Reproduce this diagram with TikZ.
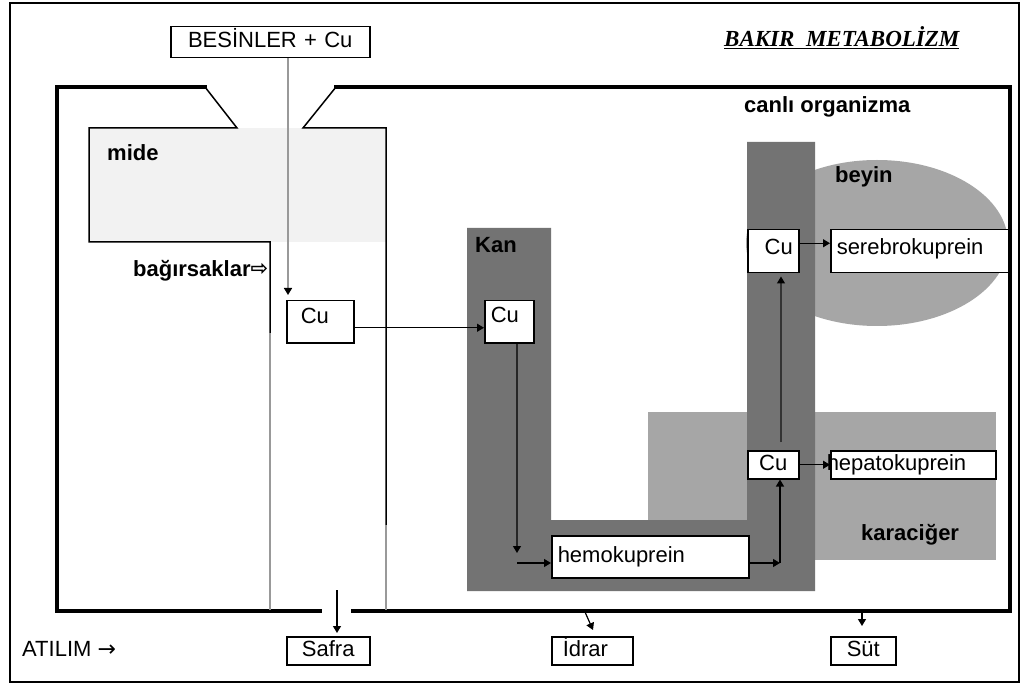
\documentclass[tikz,border=0pt]{standalone}
\usepackage{fontspec}
\setmainfont{Liberation Sans}
\newfontfamily\titlefont{Liberation Serif}
\newfontfamily\symfont{DejaVu Sans}
\usetikzlibrary{arrows.meta,calc}
\definecolor{kancol}{HTML}{737373}
\definecolor{organcol}{HTML}{A6A6A6}
\definecolor{midecol}{HTML}{F2F2F2}
\definecolor{thingray}{HTML}{999999}
\begin{document}
\begin{tikzpicture}[x=1pt,y=-1pt,
  every node/.style={font=\fontsize{22}{26}\selectfont},
  bx/.style={draw=black, line width=1.5pt, fill=white, inner xsep=6pt, inner ysep=0pt,
    anchor=north west, text height=16pt, text depth=5pt},
  lbl/.style={font=\fontsize{22}{26}\selectfont\bfseries, anchor=base west, inner sep=0pt},
  plain/.style={font=\fontsize{22}{26}\selectfont, anchor=base west, inner sep=0pt},
  arr/.style={line width=1.2pt, -{Triangle[length=7pt,width=8pt,color=black]}},
  heavy/.style={line width=4.5pt, line join=miter, line cap=rect},
  thinline/.style={line width=1.5pt},
  grayline/.style={line width=1.5pt, draw=thingray}]
\useasboundingbox (0,0) rectangle (1022,684);
\fill[white] (0,0) rectangle (1022,684);
% outer frame
\draw[line width=1.5pt] (10,3) rectangle (1019,682);
% regions
\fill[midecol] (89,128) rectangle (386,242);
\fill[organcol] (648,412) rectangle (996,560);
\fill[organcol] (877,243) ellipse [x radius=131pt, y radius=83pt];
\fill[kancol] (467,228) -- (551,228) -- (551,520) -- (747,520) -- (747,142) -- (815,142)
  -- (815,591) -- (467,591) -- cycle;
% organism frame
\draw[heavy] (320,611) -- (57,611) -- (57,87) -- (205,87);
\draw[heavy] (336,87) -- (1010,87) -- (1010,611) -- (353,611);
\draw[thinline] (205,87) -- (237,128) -- (89,128) -- (89,242) -- (270,242) -- (270,333);
\draw[thinline] (336,87) -- (303,128) -- (386,128) -- (386,525);
\draw[grayline] (270,333) -- (270,610);
\draw[grayline] (386,525) -- (386,610);
% boxes
\node[bx, text width=187pt, align=center, minimum height=31pt] (besin) at (170,26) {BESİNLER + Cu};
\node[bx, text width=55pt, align=left, minimum height=42pt] (cu1) at (286,300) {\hspace*{8pt}\raisebox{4pt}{Cu}};
\node[bx, text width=37pt, align=left, minimum height=42pt] (cu2) at (484,300) {\raisebox{5pt}{Cu}};
\node[bx, text width=39pt, align=center, minimum height=28pt] (cu3) at (747,450) {Cu};
\node[bx, text width=39pt, align=right, minimum height=43pt] (cu4) at (747,229) {\raisebox{2pt}{Cu}};
\node[bx, text width=166pt, align=left, minimum height=43pt] (sere) at (830,229) {\raisebox{2pt}{serebrokuprein}};
\node[bx, text width=185pt, align=left, minimum height=42pt] (hemo) at (551,535) {hemokuprein};
\node[bx, text width=153pt, align=left, minimum height=28pt] (hepato) at (830,450) {\hspace*{-10pt}hepatokuprein};
\node[bx, text width=71pt, align=center, minimum height=28pt] (safra) at (286,636) {Safra};
\node[bx, text width=69pt, align=left, minimum height=28pt] (idrar) at (551,636) {\hspace*{5pt}İdrar};
\node[bx, text width=53pt, align=center, minimum height=28pt] (sut) at (830,636) {Süt};
% connectors
\coordinate (bs) at ($(besin.south west)+(118,0)$);
\draw[line width=1.5pt, draw=thingray, -{Triangle[length=7pt,width=8pt,color=black]}]
  (bs) -- ($(bs |- cu1.north)+(0,-5)$);
\coordinate (c1e) at ($(cu1.east)+(0,6)$);
\draw[arr] (c1e) -- (c1e -| cu2.west);
\coordinate (kd) at (517,553);
\coordinate (ke) at (517,563);
\coordinate (hr) at (780,563);
\coordinate (vt) at (781,442);
\draw[arr, draw=black!85] (cu2.south -| kd) -- (kd);
\draw[arr] (ke) -- (ke -| hemo.west);
\draw[arr] (hemo.east |- hr) -- (hr);
\draw[arr] (hr) -- (hr |- cu3.south);
\draw[arr, draw=black!80] (vt) -- ($(vt |- cu4.south)+(0,3)$);
\draw[arr] (cu3.east) -- (hepato.west);
\coordinate (c4e) at ($(cu4.east)+(0,-8)$);
\draw[arr] (c4e) -- (c4e -| sere.west);
\coordinate (sa) at (337,590);
\draw[arr] (sa) -- ($(sa |- safra.north)+(0,-3)$);
\coordinate (ia) at (585,612);
\coordinate (ib) at (593,630);
\draw[arr] (ia) -- (ib);
\coordinate (su) at (862,613);
\draw[arr] (su) -- ($(su |- sut.north)+(0,-10)$);
% labels
\node[lbl] (mide) at (107,161) {mide};
\node[lbl] (bag) at (133,277) {bağırsaklar\raisebox{1pt}{\fontsize{21}{21}\selectfont\symfont ⇨}};
\node[lbl] (kan) at (475,253) {Kan};
\node[lbl] (canli) at (744,113) {canlı organizma};
\node[lbl] (beyin) at (835,183) {beyin};
\node[lbl] (karaciger) at (861,540) {karaciğer};
\node[plain, font=\fontsize{23}{26}\selectfont\titlefont\bfseries\itshape] (title) at (724,47) {\underline{BAKIR\ \ METABOLİZM}};
\node[plain] (atilim) at (22,656) {ATILIM {\symfont\fontsize{22}{22}\selectfont →}};
\end{tikzpicture}
\end{document}
